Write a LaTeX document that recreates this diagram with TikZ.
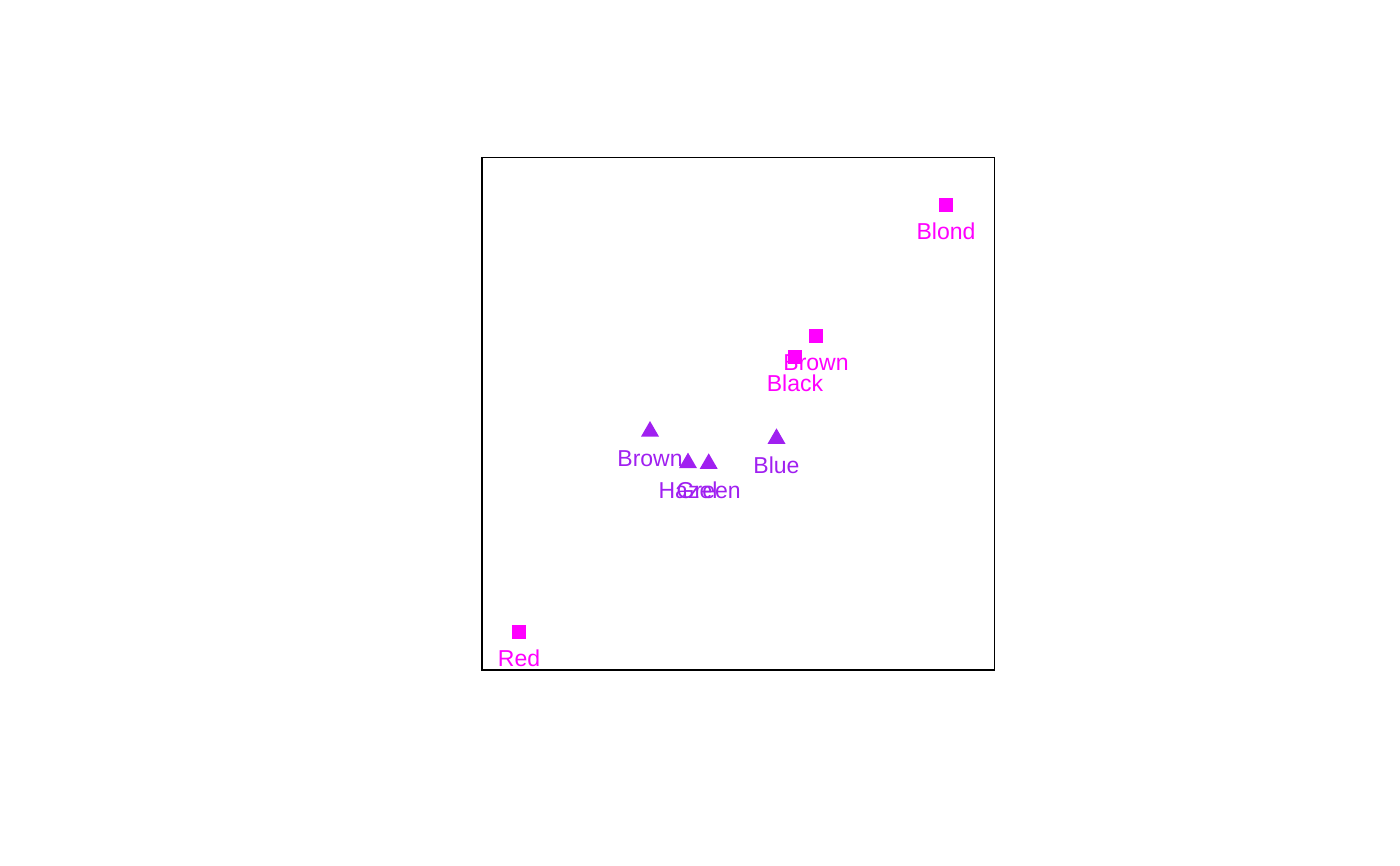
\documentclass[tikz,border=0pt]{standalone}
\usepackage{fontspec}
\setmainfont{Liberation Sans}
\usetikzlibrary{positioning,shapes.geometric}
\definecolor{hair}{HTML}{FF00FF}
\definecolor{eye}{HTML}{A020F0}
\tikzset{
  hairpt/.style={fill=hair,draw=none,minimum size=14pt,inner sep=0pt},
  eyept/.style={regular polygon,regular polygon sides=3,fill=eye,draw=none,minimum size=20.8pt,inner sep=0pt},
  hairtxt/.style={text=hair,anchor=base,inner sep=0pt,font=\fontsize{23}{27}\selectfont},
  eyetxt/.style={text=eye,anchor=base,inner sep=0pt,font=\fontsize{23}{27}\selectfont}
}

\begin{document}
\begin{tikzpicture}[x=1pt,y=-1pt]
\useasboundingbox (0,0) rectangle (1400,866);
\node[draw,line width=1.5pt,minimum size=512.5pt,inner sep=0pt] (frame) at (738.2,413.6) {};

% hair colours
\foreach \n/\t/\x/\y in {blond/Blond/946/205,brownh/Brown/816/336,black/Black/795/357,red/Red/519/632}{
	\node[hairpt] (\n) at (\x,\y) {};
	\node[hairtxt] (\n lab) at ([yshift=-34.5pt]\n.center) {\t};
}

% eye colours
\foreach \n/\t/\x/\y in {browne/Brown/650/431.4,hazel/Hazel/688/463,green/Green/708.7/463.7,blue/Blue/776.5/438.7}{
	\node[eyept] (\n) at (\x,\y) {};
	\node[eyetxt] (\n lab) at ([yshift=-35pt]\n.center) {\t};
}

\end{tikzpicture}
\end{document}
